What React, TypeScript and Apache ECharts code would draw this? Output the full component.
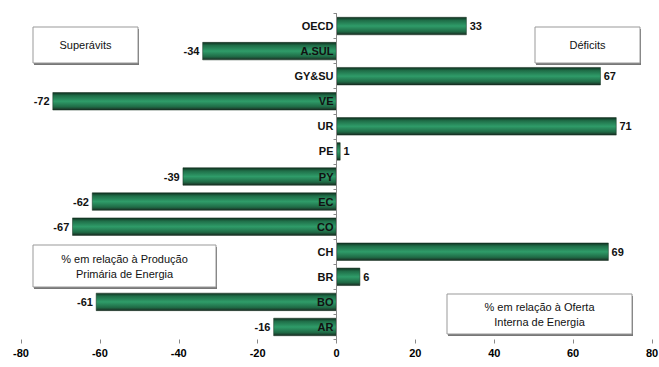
import React, { useEffect, useRef } from "react";
import * as echarts from "echarts";

const categories = ["OECD", "A.SUL", "GY&SU", "VE", "UR", "PE", "PY", "EC", "CO", "CH", "BR", "BO", "AR"];
const values = [33, -34, 67, -72, 71, 1, -39, -62, -67, 69, 6, -61, -16];
const xTicks = [-80, -60, -40, -20, 0, 20, 40, 60, 80];

const FONT = "'Liberation Sans', Arial, sans-serif";
const GRID_LEFT = 21;
const GRID_RIGHT = 7;
const GRID_W = 659 - GRID_LEFT - GRID_RIGHT;

function box(x: number, y: number, w: number, h: number, lines: string[]) {
  const els: any[] = [
    { type: "rect", shape: { x: x + 1, y: y + 2, width: w, height: h }, style: { fill: "#777" }, z: 10 },
    { type: "rect", shape: { x, y, width: w, height: h }, style: { fill: "#fff", stroke: "#999", lineWidth: 1 }, z: 11 },
  ];
  const lh = 15;
  const startY = y + h / 2 - ((lines.length - 1) * lh) / 2;
  lines.forEach((t, i) => {
    els.push({
      type: "text",
      x: x + w / 2,
      y: startY + i * lh,
      style: { text: t, fill: "#111", font: `11px ${FONT}`, align: "center", verticalAlign: "middle" },
      z: 12,
    });
  });
  return els;
}

export default function App() {
  const ref = useRef<HTMLDivElement>(null);
  useEffect(() => {
    const chart = echarts.init(ref.current!, null, { renderer: "svg" });
    const grad = new echarts.graphic.LinearGradient(0, 0, 0, 1, [
      { offset: 0, color: "#0f2f1f" },
      { offset: 0.18, color: "#1f6e48" },
      { offset: 0.5, color: "#2f9c69" },
      { offset: 0.82, color: "#1f6a45" },
      { offset: 1, color: "#1a2a22" },
    ]);
    chart.setOption({
      animation: false,
      grid: {
        left: GRID_LEFT,
        right: GRID_RIGHT,
        top: 13.5,
        height: 326,
        containLabel: false,
        outerBoundsMode: "none",
      },
      xAxis: {
        type: "value",
        min: -80,
        max: 80,
        interval: 20,
        axisLine: { show: false },
        axisTick: { show: true, length: 4, lineStyle: { color: "#888" } },
        splitLine: { show: false },
        axisLabel: {
          margin: 8,
          color: "#000",
          fontWeight: "bold",
          fontSize: 11,
          fontFamily: FONT,
          formatter: (v: number) => (xTicks.includes(v) ? String(v) : ""),
        },
      },
      yAxis: {
        type: "category",
        data: categories,
        inverse: true,
        z: 10,
        offset: -GRID_W / 2,
        axisLine: { show: true, onZero: false, lineStyle: { color: "#888" } },
        axisTick: { show: true, length: 3, lineStyle: { color: "#888" } },
        axisLabel: {
          margin: 3,
          color: "#111",
          fontWeight: "bold",
          fontSize: 11,
          fontFamily: FONT,
        },
      },
      series: [
        {
          type: "bar",
          barWidth: 18,
          data: values.map((v) => ({
            value: v,
            label: {
              show: true,
              position: v >= 0 ? "right" : "left",
              distance: 3,
              color: "#111",
              fontWeight: "bold",
              fontSize: 11,
              fontFamily: FONT,
            },
          })),
          itemStyle: { color: grad, borderColor: "#13301f", borderWidth: 0.5 },
        },
      ],
      graphic: [
        ...box(33, 27, 105, 36, ["Superávits"]),
        ...box(535, 27, 105, 36, ["Déficits"]),
        ...box(33, 245, 183, 42, ["% em relação à Produção", "Primária de Energia"]),
        ...box(447, 294, 185, 40, ["% em relação à Oferta", "Interna de Energia"]),
      ],
    });
    return () => chart.dispose();
  }, []);
  return <div ref={ref} style={{ width: 659, height: 367, position: "absolute", left: 0, top: 0 }} />;
}
